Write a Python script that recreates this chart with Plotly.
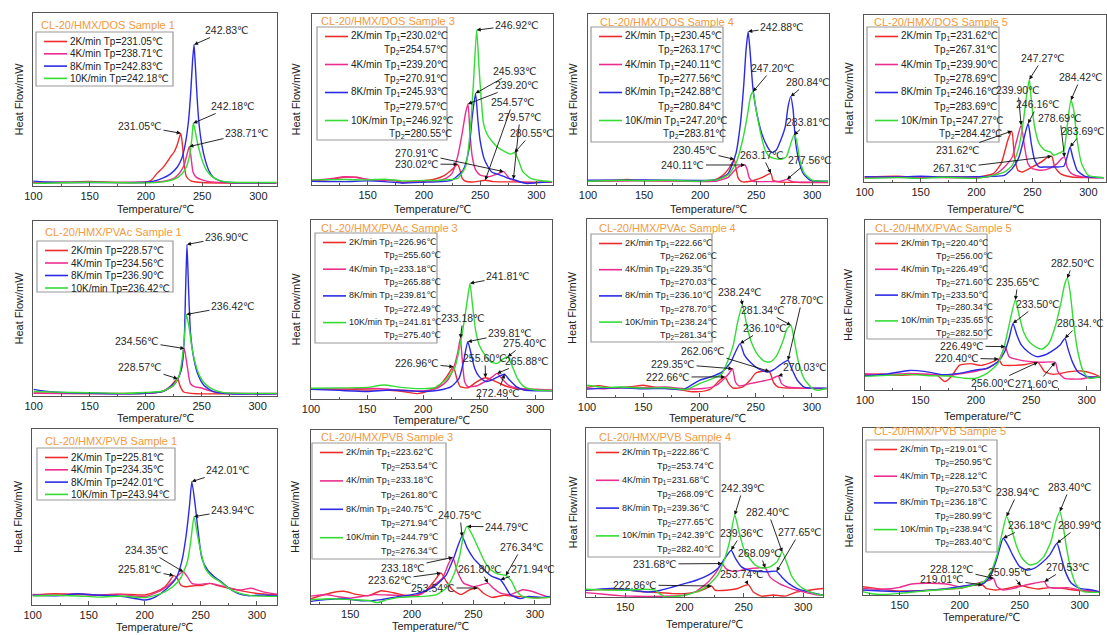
import plotly.graph_objects as go

W, H = 1107, 635
FONT = "Liberation Sans, Arial, DejaVu Sans, sans-serif"
TXT = "#222222"
ORANGE = "#F29A3E"

RATES = ["2K/min", "4K/min", "8K/min", "10K/min"]
COLORS = ["#EE2C2C", "#EC2D8F", "#2B2BE6", "#34DC34"]

TITLES = [
    "CL-20/HMX/DOS Sample 1", "CL-20/HMX/DOS Sample 3", "CL-20/HMX/DOS Sample 4", "CL-20/HMX/DOS Sample 5",
    "CL-20/HMX/PVAc Sample 1", "CL-20/HMX/PVAc Sample 3", "CL-20/HMX/PVAc Sample 4", "CL-20/HMX/PVAc Sample 5",
    "CL-20/HMX/PVB Sample 1", "CL-20/HMX/PVB Sample 3", "CL-20/HMX/PVB Sample 4", "CL-20/HMX/PVB Sample 5",
]
X_TITLE = "Temperature/℃"
Y_TITLE = "Heat Flow/mW"

TP1 = [
    [231.05, 238.71, 242.83, 242.18],
    [230.02, 239.20, 245.93, 246.92],
    [230.45, 240.11, 242.88, 247.20],
    [231.62, 239.90, 246.16, 247.27],
    [228.57, 234.56, 236.90, 236.42],
    [226.96, 233.18, 239.81, 241.81],
    [222.66, 229.35, 236.10, 238.24],
    [220.40, 226.49, 233.50, 235.65],
    [225.81, 234.35, 242.01, 243.94],
    [223.62, 233.18, 240.75, 244.79],
    [222.86, 231.68, 239.36, 242.39],
    [219.01, 228.12, 236.18, 238.94],
]
TP2 = [
    None,
    [254.57, 270.91, 279.57, 280.55],
    [263.17, 277.56, 280.84, 283.81],
    [267.31, 278.69, 283.69, 284.42],
    None,
    [255.60, 265.88, 272.49, 275.40],
    [262.06, 270.03, 278.70, 281.34],
    [256.00, 271.60, 280.34, 282.50],
    None,
    [253.54, 261.80, 271.94, 276.34],
    [253.74, 268.09, 277.65, 282.40],
    [250.95, 270.53, 280.99, 283.40],
]

# ---- heat-flow curves: (temperature, relative heat flow 0-100 of panel height) ----
dos1_2k = [(100,2.0),(130,2.2),(150,2.6),(175,2.0),(195,2.2),(200,2.3),(205,3.5),(210,7.3),(215,10.5),(219,14),(222,17),(225,19.5),(228,24),(231.05,30.5),(232.5,24),(234,13),(236,5.5),(240,3),(250,2),(280,1.7),(316,1.6)]
dos1_4k = [(100,1.9),(150,2.2),(200,2.0),(215,2.6),(225,4.4),(230,7.5),(234,12),(236.5,18),(238.71,22.8),(240.3,16),(242,8),(245,5),(250,3.5),(256,2.5),(270,2),(316,1.8)]
dos1_8k = [(100,2.8),(110,2.3),(150,2.0),(200,2.2),(208,3),(215,4.5),(222,7),(228,11),(232,16),(235,24),(238,38),(240,55),(241.5,72),(242.83,81.7),(244,70),(245.5,52),(247,38),(249,27),(252,17),(256,9),(260,5),(266,3),(275,2),(316,1.8)]
dos1_10k = [(100,1.5),(150,2.2),(200,1.8),(215,2.4),(225,3.8),(232,7),(236,11),(239,18),(241,28),(242.18,36.3),(243.5,33),(245,28),(247,22),(250,15),(254,9),(258,6),(264,3.5),(272,2.3),(316,2)]

dos3_2k = [(100,2.5),(115,3.2),(130,4.5),(140,4.5),(150,3.3),(165,2.8),(175,2.5),(180,1.5),(190,2.2),(200,2.5),(210,3.5),(218,5.5),(224,8.5),(228,11),(230.02,12.1),(232,9),(234,4),(237,2.2),(245,1.8),(254.57,2.8),(262,2),(280,1.8),(300,1.6),(314,1.6)]
dos3_4k = [(100,2.8),(115,3.5),(130,4.8),(140,4.4),(150,3.2),(165,2.8),(178,2.4),(181,1.3),(190,2.0),(200,2.2),(212,2.4),(220,4),(225,6.8),(230,16.6),(234,30),(237,42),(239.2,47.4),(241,30),(243,16.6),(246,8.8),(250,5.8),(258,4.9),(265,6.4),(270.91,7.8),(276,3.9),(285,1.9),(295,1.4),(314,1.8)]
dos3_8k = [(100,2.2),(130,2.0),(150,2.4),(165,2.0),(180,1.2),(200,1.6),(215,2.0),(225,2.9),(235,8.8),(240,20.5),(243,40),(245.93,53.6),(248,38),(250,26),(254,14.6),(260,7.8),(268,5.8),(275,3.9),(279.57,3.3),(285,1.9),(292,0.9),(300,1.3),(314,2)]
dos3_10k = [(100,3.0),(130,3.2),(150,3.0),(165,3.4),(180,2.4),(200,2.6),(215,2.8),(230,3.9),(237,10.7),(241,30),(244,59),(246.92,90.6),(249,69),(251,50),(253,36),(256,30),(260,26),(265,22.4),(272,19.5),(277,18.1),(280.55,18.9),(284,14.6),(288,7.8),(295,3.9),(305,2.5),(314,2)]

dos4_2k = [(100,2.5),(125,2.8),(135,3.2),(150,2.6),(175,2.5),(200,2.3),(212,2.8),(220,5.5),(226,10),(230.45,15),(232,10),(234,4),(237,2.0),(245,2.2),(255,4.3),(263.17,6.8),(265,2.8),(270,1.8),(290,1.5),(314,1.5)]
dos4_4k = [(100,2.2),(150,2.5),(200,2.0),(215,2.3),(225,4.5),(230,8),(234,10.5),(240.11,11.7),(242,9),(244,4),(247,2.2),(260,2.0),(272,2.2),(277.56,3.3),(282,2.0),(300,1.6),(314,1.6)]
dos4_8k = [(100,2.8),(150,2.9),(200,2.6),(210,2.8),(215,3),(225,6.8),(232,18.5),(236,36),(239,59),(241,79),(242.88,89.7),(244.5,79),(247,57.5),(250,43.9),(255,30.2),(260,22.4),(264,18.9),(268,20.5),(272,26.3),(276,34.1),(278.5,45.8),(280.84,51.7),(283,43.9),(285,26.3),(288,14.6),(292,6.8),(298,2.9),(314,2.2)]
dos4_10k = [(100,2.2),(130,2.8),(150,2.5),(170,2.8),(200,2.2),(210,2.8),(215,3),(225,5.8),(232,12.7),(238,26.3),(242,40),(245,51.7),(247.2,54.6),(250,43.9),(254,30.2),(258,20.5),(262,16.6),(266,15.6),(272,15),(277,16.6),(280,22.4),(283.81,29.2),(286,26.3),(289,14.6),(293,6.8),(300,2.9),(314,2.2)]

dos5_2k = [(100,3.0),(130,3.4),(150,2.6),(170,3.2),(200,3.0),(208,3.8),(215,5),(222,11),(228,25),(231.62,30.5),(234,15),(237,7),(241,6),(250,9),(258,12),(264,15),(267.31,15.4),(270,9),(275,5),(285,3),(300,2.6),(314,2.6)]
dos5_4k = [(100,2.6),(150,2.8),(200,2.6),(212,3.4),(220,6),(225,9),(232,15),(236,25),(239.9,34),(243,21),(246,11),(250,8),(258,7),(265,8),(272,11),(276,14),(278.69,15),(281,9),(285,5),(295,3),(314,2.6)]
dos5_8k = [(100,3.2),(130,3.0),(150,3.4),(170,3.0),(200,3.2),(215,3.4),(225,4),(232,8),(238,15),(242,25),(246.16,35),(249,23),(252,13),(256,9),(262,9),(270,9),(278,9.4),(281,15),(283.69,21),(286,15),(290,7),(297,3.4),(314,2.6)]
dos5_10k = [(100,2.2),(130,2.6),(150,2.2),(170,2.8),(200,2.2),(215,4),(225,6),(232,10),(238,21),(242,37),(245,53),(247.27,61.4),(249,49),(252,33),(256,23),(261,19),(266,18),(269,16),(273,17),(278,19),(281,33),(284.42,49),(287,43),(290,25),(294,11),(300,4),(314,2.6)]

pvac1_2k = [(100,1.7),(150,1.5),(200,1.5),(212,2.2),(218,3.5),(222,5.5),(226,8.4),(228.57,9.9),(231,5.2),(234,2.3),(245,1.3),(280,1.3),(317,1.3)]
pvac1_4k = [(100,1.5),(150,1.3),(200,1.5),(215,2.5),(225,6),(229,9.9),(232,15.6),(234.56,27.1),(237,17.6),(240,7),(244,5.2),(250,4.6),(256,3.2),(265,1.9),(317,1.5)]
pvac1_8k = [(100,3.8),(110,2.8),(125,2.0),(150,1.6),(180,1.3),(200,1.6),(215,2.5),(222,5.2),(228,9),(232,15.6),(234.5,32.8),(235.7,61.5),(236.9,86.6),(238.3,61.5),(240,36.6),(243,21.4),(247,11.8),(252,6.1),(260,2.7),(275,1.3),(317,1.3)]
pvac1_10k = [(100,2.6),(120,2.2),(150,1.9),(180,1.5),(200,2.0),(215,2.7),(225,6.1),(230,11.8),(233,23.3),(235,36.6),(236.42,46.6),(239,38.5),(241,29),(244,19.5),(248,11.8),(253,7),(260,3.8),(270,1.9),(317,1.5)]

pvac3_2k = [(100,5.6),(130,5.4),(150,5.0),(170,4.8),(185,3.9),(195,3.0),(205,4.5),(215,7.8),(222,13.4),(226.96,18),(230,11.5),(233,6.9),(240,6.3),(248,9.7),(255.6,11.9),(262,10.6),(268,8.8),(275,6.9),(285,5.6),(300,5),(315,4.7)]
pvac3_4k = [(100,5.8),(130,5.6),(150,6.0),(170,5.4),(190,4.6),(200,4.5),(210,5.5),(215,6.9),(222,10.6),(228,19),(231,26.4),(233.18,33.9),(235,20.9),(237,9.7),(240,6.9),(248,7.4),(255,9.7),(262,12.5),(265.88,14.3),(270,11.5),(276,7.8),(285,6),(315,5)]
pvac3_8k = [(100,5.4),(125,4.8),(150,4.2),(170,5.0),(190,4.5),(200,4.2),(215,5),(225,6.9),(232,11.5),(236,20.9),(239.81,32),(243,24.6),(246,17.1),(250,12.5),(256,9.7),(262,10.8),(268,12.8),(272.49,13.8),(277,10.6),(283,6.9),(290,5),(315,4.6)]
pvac3_10k = [(100,6.0),(130,6.2),(150,6.5),(165,7.8),(180,6.5),(200,5.8),(210,6.3),(220,10.6),(228,17.1),(233,30.2),(237,45),(240,58),(241.81,64.6),(244,52.5),(247,37.6),(250,30.2),(255,24.6),(260,20.9),(266,19.9),(271,22.3),(275.4,23.6),(279,19),(284,11.5),(290,6.9),(300,5),(315,4.7)]

pvac4_2k = [(100,5.4),(110,6.4),(125,5.0),(140,5.8),(150,6.6),(165,5.0),(180,4.5),(190,3.2),(200,3.0),(210,4.5),(218,9.4),(222.66,11.3),(226,7.5),(230,5),(238,5.5),(245,9.4),(250,13.5),(256,14.5),(262.06,14.4),(266,8),(270,5.5),(280,5),(295,5),(313,4.7)]
pvac4_4k = [(100,5.0),(115,4.6),(130,5.4),(150,5.2),(170,5.6),(190,4.5),(200,4.6),(210,5.4),(215,6.6),(222,10.3),(226,13.1),(229.35,15.9),(232,8.4),(235,6.2),(245,7.5),(255,8.8),(263,9.9),(270.03,11.8),(273,7.5),(278,5.6),(290,5),(313,4.8)]
pvac4_8k = [(100,4.4),(115,5.0),(130,5.2),(150,4.6),(170,4.8),(185,4.2),(190,5.6),(200,9.4),(210,11.3),(220,14),(228,19.7),(232,25.3),(236.1,30),(240,23.5),(245,19.7),(252,16),(260,14),(266,15.4),(272,18.2),(278.7,20.6),(282,16),(287,9.4),(293,5.6),(300,5),(313,5)]
pvac4_10k = [(100,6.6),(115,5.4),(130,5.6),(150,5.0),(170,5.2),(185,4.2),(190,4.5),(200,7.5),(210,9.9),(220,13.1),(226,21.6),(230,29),(234,42.2),(238.24,51.6),(242,40.3),(246,31),(252,23.5),(258,20),(263,19.7),(268,22.5),(274,31),(278,38.5),(281.34,40.3),(284,32.8),(288,19.7),(293,10.3),(300,5),(305,3.8),(313,4.8)]

pvac5_2k = [(100,9.0),(115,9.4),(130,8.6),(150,9.2),(165,8.6),(172,5.0),(178,8.0),(185,14.5),(195,15.5),(205,14.5),(215,16.5),(220.4,18.2),(224,14.7),(235,14.5),(245,15.0),(256,16.3),(262,10.8),(270,9.2),(285,10.8),(295,11.2),(305,9.8),(312,7.8)]
pvac5_4k = [(100,9.6),(120,9.0),(140,9.8),(160,9.2),(175,8.6),(190,10),(200,11),(210,12.7),(220,16.7),(226.49,25.5),(230,19.6),(240,17.6),(250,16.7),(260,16.3),(271.6,16.3),(274,10.8),(280,6.9),(295,6.5),(305,7.8),(312,7.8)]
pvac5_8k = [(100,8.4),(120,9.4),(140,11.5),(155,10.8),(170,9.0),(185,9.8),(200,11.8),(210,12.7),(220,16.7),(226,22.5),(230,30.4),(233.5,39.2),(237,32.4),(241,26.5),(247,22.5),(255,19.6),(262,20.6),(270,23.5),(276,26.5),(280.34,30.4),(283,24.5),(287,16.7),(292,10.8),(300,7.8),(312,7.4)]
pvac5_10k = [(100,8.0),(120,8.6),(140,9.2),(160,8.4),(175,8.2),(190,6.9),(200,6.9),(210,9.8),(220,15.7),(226,26.5),(230,38.2),(235.65,52.9),(239,44.1),(243,34.3),(248,28.4),(255,24.9),(260,24.1),(266,27.5),(272,38.2),(277,52),(280,61.8),(282.5,65.7),(285,57.8),(288,40.2),(292,22.5),(297,10.8),(302,6.9),(312,7.8)]

pvb1_2k = [(100,5.7),(120,6.4),(140,6.0),(160,5.7),(180,6.2),(200,5.7),(210,7.6),(218,10.4),(222,13.5),(225.81,16.7),(229,15.2),(232,11.4),(236,10.4),(245,11),(252,11.2),(258,12.3),(265,11),(275,9.5),(290,7.6),(300,6.6),(318,5.7)]
pvb1_4k = [(100,6.0),(120,5.7),(140,6.4),(160,5.5),(175,6.2),(190,5.2),(200,4.7),(215,8.5),(225,13.3),(230,17),(234.35,18.9),(238,16.1),(242,12.3),(248,11.7),(258,12.3),(265,11.4),(275,9.8),(285,8.5),(295,9.5),(305,7.6),(318,6.1)]
pvb1_8k = [(100,5.5),(125,5.3),(140,6.4),(155,5.7),(175,5.3),(190,3.8),(200,2.8),(205,3.4),(210,4.7),(220,9.5),(228,15.2),(233,24.6),(237,39.8),(240,56.8),(242.01,70.1),(245,56.8),(248,39.8),(251,26.5),(256,19.9),(262,16.1),(268,13.3),(275,9.5),(283,6.6),(292,5.3),(305,5.7),(318,5.3)]
pvb1_10k = [(100,5.1),(120,5.5),(140,5.1),(160,4.5),(180,5.1),(200,4.2),(215,6.6),(225,10.4),(232,15.2),(238,24.6),(241,36),(243.94,50.2),(247,39.8),(250,30.3),(254,20.8),(260,16.1),(267,13.3),(275,9.5),(285,6.6),(295,5.3),(318,4.9)]

pvb3_2k = [(118,3.0),(125,4.5),(135,6.5),(145,7.3),(155,5.5),(165,4.8),(175,7.6),(185,6.5),(195,5.0),(205,5.2),(212,8),(218,13),(223.62,17.8),(228,13),(233,8.2),(240,5.4),(247,8.2),(253.54,9.2),(258,6.3),(265,3.8),(275,5.0),(285,4.4),(300,3.6),(312,3.8)]
pvb3_4k = [(118,4.5),(130,5.5),(140,4.2),(150,3.4),(160,4.4),(170,5.4),(180,5.2),(190,5.0),(200,4.4),(208,5.8),(215,9.2),(225,15),(230,23.5),(233.18,26.8),(237,18.7),(242,12),(250,10),(255,10.7),(261.8,12),(266,9.2),(272,6.3),(280,5.4),(290,8.2),(298,7.2),(305,5.4),(312,3.8)]
pvb3_8k = [(118,1.5),(130,2.5),(145,3.0),(160,1.8),(175,2.5),(185,3.8),(200,5.4),(210,7.3),(220,11),(228,16.8),(234,26.4),(240.75,38.8),(245,32.1),(250,26.4),(255,22.6),(260,18.7),(265,15.9),(271.94,14),(275,11),(280,5.4),(288,3.1),(295,4.4),(305,3.8),(312,4.4)]
pvb3_10k = [(118,2.5),(135,3.0),(150,2.5),(165,2.0),(172,0.8),(180,2.5),(190,3.8),(200,4.2),(210,4.4),(220,5.4),(228,9.2),(234,16.8),(239,28.3),(242,39.8),(244.79,44.6),(249,39.8),(254,32.1),(259,24.5),(264,19.7),(270,17.2),(276.34,16.4),(281,13),(285,7.3),(290,4.4),(300,3.4),(312,3.8)]

pvb4_2k = [(117,4.0),(130,4.4),(145,4.6),(160,3.4),(175,2.8),(190,2.0),(200,2.0),(210,3),(218,5),(222.86,6.5),(226,4),(235,4),(245,5),(253.74,7.3),(258,3),(265,0.5),(275,1.2),(285,0.5),(295,3),(305,4),(317,5)]
pvb4_4k = [(117,2.6),(130,1.8),(145,0.8),(160,0.4),(175,0.3),(190,0.6),(200,1.0),(210,3.4),(220,8.9),(227,14.9),(231.68,19.8),(235,16.8),(240,15.2),(248,15.8),(255,16.8),(262,17.2),(268.09,17.2),(272,11.9),(280,7.9),(290,5),(300,3),(310,1.4),(317,1)]
pvb4_8k = [(117,4.0),(130,4.8),(140,5.0),(155,4.0),(170,3.0),(180,4.0),(190,5.9),(200,7.9),(210,9.9),(220,12.9),(228,16.8),(234,22.8),(239.36,27.7),(243,22.8),(248,17.8),(255,15.8),(262,15.2),(270,14.9),(277.65,15.2),(282,11.9),(288,7.9),(295,5),(305,3),(317,1)]
pvb4_10k = [(117,4.6),(130,4.2),(150,4.0),(165,4.6),(175,4.2),(179,2.0),(183,0.2),(190,0.2),(200,1),(210,3),(220,6.9),(228,12.9),(234,22.8),(238,32.7),(242.39,48.5),(246,38.6),(250,28.7),(255,22.8),(260,18.8),(266,17.2),(272,17.8),(278,20.8),(282.4,26.7),(286,20.8),(290,12.9),(295,7.9),(300,5),(310,2),(317,1)]

pvb5_2k = [(119,5.0),(130,4.0),(145,2.6),(160,2.4),(175,2.8),(190,3.6),(200,4),(210,5.6),(219.01,6),(222,4),(230,3),(240,4),(250.95,5.6),(258,4.4),(265,3.6),(275,4.4),(285,4),(295,3),(305,2.4),(316,1.6)]
pvb5_4k = [(119,4.0),(135,3.4),(150,4.6),(160,6.6),(175,7),(190,6.4),(200,5),(210,6),(220,8),(225,9),(228.12,10),(231,5),(236,3),(245,4),(255,6),(262,7),(270.53,8),(273,5),(280,4),(290,4.4),(300,3),(316,2)]
pvb5_8k = [(119,3),(135,2.4),(150,2),(165,2.4),(180,3.2),(190,4),(200,5),(210,6),(220,7),(226,12),(231,22),(236.18,34),(240,30),(244,24),(250,17),(256,15),(262,16),(268,19),(275,24),(280.99,31),(284,24),(288,14),(293,7),(300,4),(310,3),(316,2)]
pvb5_10k = [(119,2),(128,0.6),(138,0.4),(150,1),(165,2),(180,3),(195,3.8),(205,4.8),(210,5.6),(220,8),(226,14),(231,24),(235,36),(238.94,47),(243,40),(247,30),(252,22),(258,18),(264,19),(270,23),(276,32),(280,44),(283.4,50),(286,42),(289,28),(293,14),(297,6),(303,2),(316,1.6)]

CURVES = [
    [dos1_2k, dos1_4k, dos1_8k, dos1_10k],
    [dos3_2k, dos3_4k, dos3_8k, dos3_10k],
    [dos4_2k, dos4_4k, dos4_8k, dos4_10k],
    [dos5_2k, dos5_4k, dos5_8k, dos5_10k],
    [pvac1_2k, pvac1_4k, pvac1_8k, pvac1_10k],
    [pvac3_2k, pvac3_4k, pvac3_8k, pvac3_10k],
    [pvac4_2k, pvac4_4k, pvac4_8k, pvac4_10k],
    [pvac5_2k, pvac5_4k, pvac5_8k, pvac5_10k],
    [pvb1_2k, pvb1_4k, pvb1_8k, pvb1_10k],
    [pvb3_2k, pvb3_4k, pvb3_8k, pvb3_10k],
    [pvb4_2k, pvb4_4k, pvb4_8k, pvb4_10k],
    [pvb5_2k, pvb5_4k, pvb5_8k, pvb5_10k],
]

# ---- layout geometry (page pixels) ----
# frame: left, top, right, bottom, x-range start, x-range end
FRAMES = [
    (33, 13, 277, 186, 99.7, 316.6),
    (312, 14, 553, 185, 100.5, 314.8),
    (588, 14, 829, 185, 100.0, 315.0),
    (864, 15, 1106, 182, 99.4, 315.8),
    (33, 221, 277, 396, 99.4, 317.3),
    (311, 220, 552, 399, 100.0, 314.9),
    (587, 219, 827, 397, 100.0, 313.4),
    (865, 220, 1100, 390, 100.0, 312.0),
    (32, 429, 277, 605, 99.4, 318.0),
    (311, 430, 550, 604, 118.1, 312.2),
    (586, 428, 823, 597, 117.0, 316.8),
    (863, 428, 1099, 595, 119.4, 316.0),
]
XTITLE_Y = [209, 209, 209, 209, 418, 420, 418, 416, 627, 626, 624, 617]
YTITLE_X = [18, 295, 572, 848]
TITLE_POS = [(39, 25), (319, 21), (598, 22), (872, 22), (43, 232), (319, 228), (597, 228), (873, 228),
             (43, 441), (319, 437), (597, 437), (872, 431)]
# legend box: left, top, right, bottom, row step, font size
LEGEND_BOX = [
    (36, 32, 173, 86, 12.3, 10), (317, 27, 447, 140, 28, 10), (591, 27, 723, 142, 28, 10), (867, 27, 999, 142, 28, 10),
    (37, 241, 173, 292, 12.5, 10), (315, 233, 437, 343, 26.7, 9), (591, 234, 712, 342, 26.2, 9), (867, 234, 987, 339, 25.8, 9),
    (37, 448, 175, 500, 12.3, 10), (312, 443, 446, 559, 28.4, 9), (588, 443, 720, 557, 27.8, 9), (866, 440, 997, 552, 26.7, 9),
]

# peak labels: (rate index, peak number, label centre x, label centre y[, text])
LABELS = [
    [(2,1,227,30),(3,1,233,106),(0,1,140,126),(1,1,247,133)],
    [(3,1,517,25),(2,1,515,71),(1,1,517,85),(0,2,513,102),(2,2,520,117),(3,2,532,133),(1,2,417,153),(0,1,417,164)],
    [(2,1,782,27),(3,1,773,68),(2,2,808,82),(3,2,808,122),(0,1,695,150),(1,1,683,165),(0,2,762,155),(1,2,810,160)],
    [(3,1,1043,58),(3,2,1081,77),(1,1,1018,90),(2,1,1038,104),(1,2,1060,118),(2,2,1083,131),(0,1,958,150),(0,2,955,168)],
    [(2,1,227,237),(3,1,233,306),(1,1,137,341),(0,1,140,367)],
    [(3,1,508,276),(1,1,463,318),(2,1,510,333),(3,2,525,343),(0,1,417,363),(0,2,485,358),(1,2,527,361),(2,2,498,393)],
    [(3,1,740,292),(3,2,763,310),(2,2,802,300),(2,1,765,328),(0,2,703,351),(1,1,673,364),(1,2,805,367),(0,1,668,377)],
    [(3,2,1073,263),(3,1,1018,282),(2,1,1038,304),(2,2,1080,323,"280.34.℃"),(1,1,962,346),(0,1,957,358),(0,2,993,383),(1,2,1037,384)],
    [(2,1,228,470),(3,1,233,510),(1,1,147,550),(0,1,140,569)],
    [(2,1,460,515),(3,1,507,527),(3,2,522,547),(1,1,403,568),(1,2,480,569),(2,2,533,569),(0,1,390,580),(0,2,433,588)],
    [(3,1,743,488),(3,2,768,512),(2,2,800,532),(2,1,742,533),(1,2,760,553),(1,1,655,564),(0,2,742,574),(0,1,635,585)],
    [(3,1,1018,492),(3,2,1070,487),(2,1,1030,525),(2,2,1080,525),(1,1,952,569),(0,1,942,579),(0,2,1010,572),(1,2,1068,567)],
]


def y_at(curve, t):
    for xv, yv in curve:
        if abs(xv - t) < 0.02:
            return yv
    raise ValueError(t)


def px(v):
    return v / W


def py(v):
    return 1 - v / H


fig = go.Figure()
annotations = []
shapes = []
layout = {}

for i in range(12):
    n = i + 1
    sfx = "" if n == 1 else str(n)
    xa, ya = "x" + sfx, "y" + sfx
    l, t, r, b, x0, x1 = FRAMES[i]
    col = i % 4

    for k in range(4):
        pts = CURVES[i][k]
        fig.add_trace(go.Scatter(
            x=[p[0] for p in pts], y=[p[1] for p in pts], mode="lines",
            line=dict(color=COLORS[k], width=1.4, shape="spline", smoothing=0.55),
            name=RATES[k], showlegend=False, xaxis=xa, yaxis=ya, hoverinfo="skip"))

    layout["xaxis" + sfx] = dict(
        domain=[px(l), px(r)], range=[x0, x1], anchor=ya,
        tick0=0, dtick=50, ticks="inside", ticklen=4, tickcolor="#555", tickwidth=1,
        minor=dict(dtick=25, ticks="inside", ticklen=2.5, tickcolor="#555"),
        showgrid=False, zeroline=False, showline=True, mirror=True,
        linecolor="#555", linewidth=1.1, automargin=False,
        tickfont=dict(size=11, family=FONT, color=TXT),
    )
    layout["yaxis" + sfx] = dict(
        domain=[py(b), py(t)], range=[0, 100], anchor=xa,
        showticklabels=False, ticks="", showgrid=False, zeroline=False,
        showline=True, mirror=True, linecolor="#555", linewidth=1.1, automargin=False,
    )

    # axis titles
    annotations.append(dict(text=X_TITLE, x=px((l + r) / 2), y=py(XTITLE_Y[i]), xref="paper", yref="paper",
                            xanchor="center", yanchor="middle", showarrow=False,
                            font=dict(size=11, family=FONT, color=TXT)))
    annotations.append(dict(text=Y_TITLE, x=px(YTITLE_X[col]), y=py((t + b) / 2), xref="paper", yref="paper",
                            xanchor="center", yanchor="middle", showarrow=False, textangle=-90,
                            font=dict(size=11, family=FONT, color=TXT)))

    # panel title
    tx, ty = TITLE_POS[i]
    annotations.append(dict(text=TITLES[i], x=px(tx), y=py(ty), xref="paper", yref="paper",
                            xanchor="left", yanchor="middle", showarrow=False,
                            font=dict(size=11, family=FONT, color=ORANGE)))

    # legend box
    L, T, R, B, step, fs = LEGEND_BOX[i]
    shapes.append(dict(type="rect", xref="paper", yref="paper", x0=px(L), x1=px(R), y0=py(B), y1=py(T),
                       line=dict(color="#9a9a9a", width=1.2), fillcolor="rgba(255,255,255,0)"))
    two = TP2[i] is not None
    for k in range(4):
        yy = T + 9.5 + k * step
        shapes.append(dict(type="line", xref="paper", yref="paper", x0=px(L + 8), x1=px(L + 31),
                           y0=py(yy), y1=py(yy), line=dict(color=COLORS[k], width=1.6)))
        if two:
            line1 = f"{RATES[k]} Tp<sub>1</sub>={TP1[i][k]:.2f}℃"
            line2 = f"Tp<sub>2</sub>={TP2[i][k]:.2f}℃"
            ind = (38 if k == 3 else 33) if fs == 10 else 35
            annotations.append(dict(text=line1, x=px(L + 32), y=py(yy), xref="paper", yref="paper",
                                    xanchor="left", yanchor="middle", showarrow=False,
                                    font=dict(size=fs, family=FONT, color=TXT)))
            annotations.append(dict(text=line2, x=px(L + 32 + ind), y=py(yy + step / 2), xref="paper", yref="paper",
                                    xanchor="left", yanchor="middle", showarrow=False,
                                    font=dict(size=fs, family=FONT, color=TXT)))
        else:
            line1 = f"{RATES[k]} Tp={TP1[i][k]:.2f}℃"
            annotations.append(dict(text=line1, x=px(L + 32), y=py(yy), xref="paper", yref="paper",
                                    xanchor="left", yanchor="middle", showarrow=False,
                                    font=dict(size=fs, family=FONT, color=TXT)))

    # peak labels with arrows
    for spec in LABELS[i]:
        k, which, lx, ly = spec[:4]
        tp = TP1[i][k] if which == 1 else TP2[i][k]
        yv = y_at(CURVES[i][k], tp)
        text = spec[4] if len(spec) > 4 else f"{tp:.2f}℃"
        ppx = l + (tp - x0) / (x1 - x0) * (r - l)
        ppy = b - yv / 100 * (b - t)
        annotations.append(dict(text=text, x=tp, y=yv, xref=xa, yref=ya, showarrow=True,
                                ax=lx - ppx, ay=ly - ppy, axref="pixel", ayref="pixel",
                                arrowhead=2, arrowsize=0.9, arrowwidth=0.9, arrowcolor="#111",
                                standoff=0, startstandoff=0,
                                font=dict(size=10.5, family=FONT, color="#2a2a2a")))

fig.update_layout(
    width=W, height=H, margin=dict(l=0, r=0, t=0, b=0, pad=0, autoexpand=False),
    paper_bgcolor="white", plot_bgcolor="white",
    showlegend=False, annotations=annotations, shapes=shapes,
    font=dict(family=FONT, color=TXT), **layout,
)
fig.write_html("out.html", config={"displayModeBar": False, "staticPlot": True},
               post_script="document.body.style.margin='0';document.body.style.overflow='hidden';")
